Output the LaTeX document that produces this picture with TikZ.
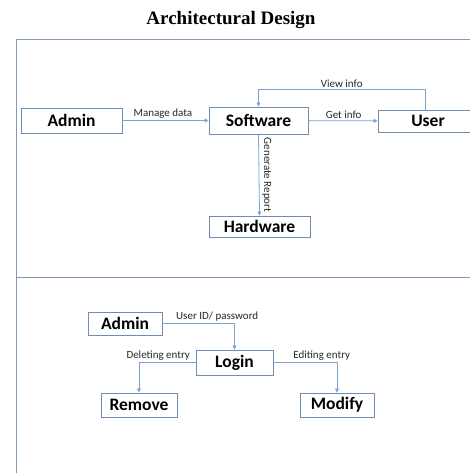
\documentclass[tikz,border=0pt]{standalone}
\usepackage{fontspec}
\setmainfont{Carlito}
\newfontfamily\titlefont{Liberation Serif}
\usetikzlibrary{arrows.meta}
\definecolor{boxc}{HTML}{6F8DB3}
\definecolor{arrc}{HTML}{7AA3D3}
\definecolor{framec}{HTML}{8199B6}
\tikzset{
  blk/.style={draw=boxc, line width=0.9pt, fill=white, inner sep=0pt,
    font=\fontsize{17.5}{19}\selectfont\bfseries},
  arr/.style={draw=arrc, line width=0.8pt, -{Triangle[length=4pt,width=4pt]}},
  lbl/.style={font=\fontsize{11}{12}\selectfont, inner sep=2pt, text=black!85}
}
\begin{document}
\begin{tikzpicture}[x=1pt,y=-1pt]
\useasboundingbox (0,0) rectangle (470,473);
% title
\node[font=\titlefont\bfseries\fontsize{19}{21}\selectfont] (title) at (231,20) {Architectural Design};
% frame
\draw[framec, line width=0.9pt] (16,476) -- (16,39) -- (476,39);
\draw[framec, line width=0.9pt] (16,277) -- (476,277);
% top section
\node[blk, minimum width=101pt, minimum height=25pt] (adm) at (71.5,120.5) {Admin};
\node[blk, minimum width=99pt, minimum height=27pt] (sw) at (258.5,120.5) {Software};
\node[blk, minimum width=100pt, minimum height=22pt, text depth=-2pt] (usr) at (428,121) {User};
\node[blk, minimum width=101pt, minimum height=21pt] (hw) at (259.5,226.5) {Hardware};
\draw[arr] (adm) -- node[lbl, above, pos=0.47] {Manage data} (sw);
\draw[arr] (sw) -- node[lbl, above, pos=0.51] {Get info} (usr);
\draw[arr] (usr.north) ++(-3,0) -- ++(0,-20) -| node[lbl, above, pos=0.25] {View info} (sw.north);
\draw[arr] (sw.south) -- node[lbl, rotate=-90, anchor=south, inner sep=3pt] {Generate Report} (hw.north);
% bottom section
\node[blk, minimum width=74pt, minimum height=23pt] (adm2) at (125,323.5) {Admin};
\node[blk, minimum width=77pt, minimum height=25pt] (login) at (234.5,362.5) {Login};
\node[blk, minimum width=76pt, minimum height=24pt] (rem) at (139,405) {Remove};
\node[blk, minimum width=74pt, minimum height=24pt] (mod) at (337,405) {Modify};
\draw[arr] (adm2.east) -| node[lbl, above, pos=0.38] {User ID/ password} (login.north);
\draw[arr] (login.west) -| node[lbl, above, pos=0.33] {Deleting entry} (rem.north);
\draw[arr] (login.east) -| node[lbl, above, pos=0.38] {Editing entry} (mod.north);
\end{tikzpicture}
\end{document}
